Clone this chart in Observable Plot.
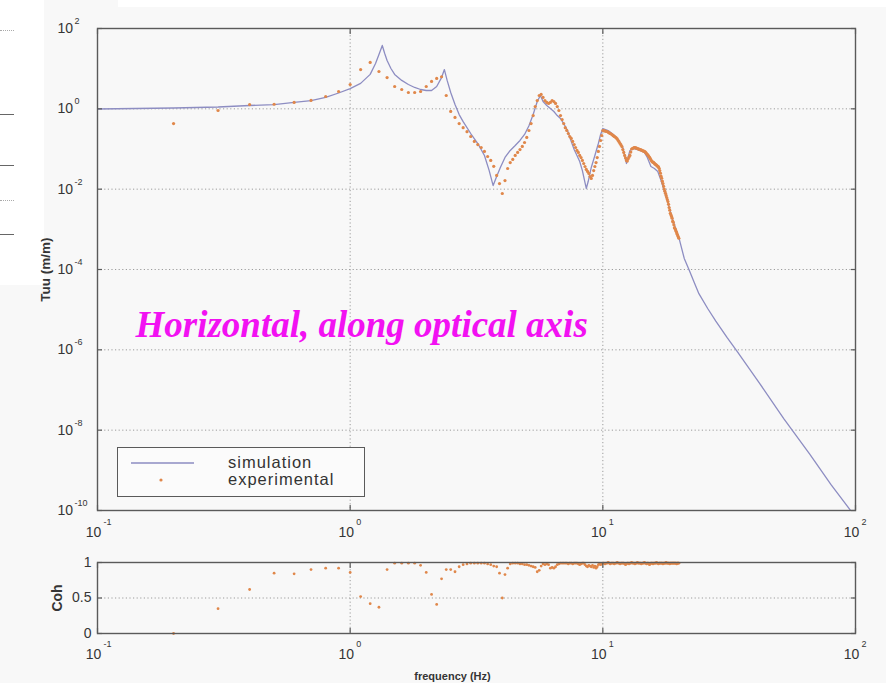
<!DOCTYPE html>
<html>
<head>
<meta charset="utf-8">
<script src="https://cdn.jsdelivr.net/npm/d3@7"></script>
<script src="https://cdn.jsdelivr.net/npm/@observablehq/plot@0.6"></script>
<style>
  body { margin: 0; background: #f8f8f8; }
  #page { position: relative; width: 886px; height: 683px; overflow: hidden; font-family: "Liberation Sans", Arial, sans-serif; }
  #page svg { position: absolute; left: 0; }
  .blank { position: absolute; background: #ffffff; }
  .edge { position: absolute; left: 0; width: 14px; height: 0; border-top: 1.3px solid #666; }
  .edge.dot { border-top: 1px dotted #aaa; }
  #legend { position: absolute; left: 117px; top: 447px; width: 246px; height: 48px; border: 1.3px solid #5a5a5a; background: #fbfbfb; }
  #legend svg { position: absolute; left: 0; top: 0; }
  #legend .lab { position: absolute; left: 110px; font-size: 16.5px; letter-spacing: 1px; color: #333; line-height: 17px; }
</style>
</head>
<body>
<div id="page">
  <div class="blank" style="left:0;top:0;width:44px;height:285px"></div>
  <div class="blank" style="left:118px;top:0;width:768px;height:7px"></div>
  <div class="edge dot" style="top:30px"></div>
  <div class="edge" style="top:114px"></div>
  <div class="edge" style="top:165px"></div>
  <div class="edge dot" style="top:200px"></div>
  <div class="edge" style="top:234px"></div>
</div>
<script>
// Simulated transfer function Tuu (m/m) versus frequency (Hz)
const simFreq = [0.1, 0.2, 0.3, 0.4, 0.5, 0.6, 0.7, 0.8, 0.9, 1.0,
  1.1, 1.2, 1.26, 1.3, 1.34, 1.37, 1.4, 1.45, 1.5, 1.6, 1.7, 1.8, 1.9, 2.0,
  2.1, 2.2, 2.3, 2.36, 2.42, 2.5, 2.6, 2.7, 2.8, 3.0, 3.2, 3.4, 3.55, 3.68, 3.8, 3.93,
  4.1, 4.3, 4.5, 4.7, 4.9, 5.1, 5.3, 5.5, 5.66, 5.8, 6.0, 6.2, 6.4, 6.6, 6.8,
  7.0, 7.25, 7.5, 7.7, 7.9, 8.1, 8.3, 8.5, 8.6, 8.75, 9.0, 9.3, 9.6, 9.8,
  10.0, 10.5, 11.0, 11.5, 12.0, 12.4, 12.8, 13.2, 14.0, 14.6, 15.0, 15.5, 16.0, 16.5,
  17.0, 17.5, 18.0, 18.5, 19.0, 20.0, 21.0, 22.0, 23.0, 24.0, 26.0, 28.0, 31.0, 34.0,
  42.0, 52.0, 66.0, 80.0, 100.0];
const simMag = [0.99, 1.05, 1.11, 1.21, 1.28, 1.44, 1.61, 1.92, 2.48, 3.2,
  4.3, 7.2, 13.5, 22.5, 37.8, 23.9, 16, 10.1, 7.2, 5.1, 4.04, 3.4, 3.03, 2.86,
  2.86, 3.6, 6.0, 9.5, 5.1, 2.55, 1.28, 0.72, 0.48, 0.243, 0.137, 0.069, 0.029, 0.0123, 0.0207, 0.0347,
  0.0615, 0.092, 0.122, 0.163, 0.23, 0.38, 0.72, 1.52, 2.15, 1.52, 1.21, 1.02, 0.86, 0.68, 0.575,
  0.43, 0.289, 0.154, 0.097, 0.069, 0.0489, 0.029, 0.0146, 0.0104, 0.0155, 0.0347, 0.069, 0.137, 0.23,
  0.324, 0.289, 0.23, 0.173, 0.109, 0.0436, 0.092, 0.103, 0.092, 0.082, 0.0615, 0.0367, 0.0327, 0.0276,
  0.0164, 0.0091, 0.0052, 0.0028, 0.00156, 0.00062, 0.000189, 9.5e-5, 4.75e-5, 2.5e-5, 1.07e-5, 5.2e-6, 2.04e-6, 9.2e-7,
  1.38e-7, 1.95e-8, 2.5e-9, 4.4e-10, 6.9e-11];

// Measured transfer function and coherence, 0.1 Hz resolution
const expFreq = [
  0.2, 0.3, 0.4, 0.5, 0.6, 0.7, 0.8, 0.9, 1.0,
  1.1, 1.2, 1.3, 1.4, 1.5, 1.6, 1.7, 1.8, 1.9, 2.0,
  2.1, 2.2, 2.3, 2.4, 2.5, 2.6, 2.7, 2.8, 2.9, 3.0,
  3.1, 3.2, 3.3, 3.4, 3.5, 3.6, 3.7, 3.8, 3.9, 4.0,
  4.1, 4.2, 4.3, 4.4, 4.5, 4.6, 4.7, 4.8, 4.9, 5.0,
  5.1, 5.2, 5.3, 5.4, 5.5, 5.6, 5.7, 5.8, 5.9, 6.0,
  6.1, 6.2, 6.3, 6.4, 6.5, 6.6, 6.7, 6.8, 6.9, 7.0,
  7.1, 7.2, 7.3, 7.4, 7.5, 7.6, 7.7, 7.8, 7.9, 8.0,
  8.1, 8.2, 8.3, 8.4, 8.5, 8.6, 8.7, 8.8, 8.9, 9.0,
  9.1, 9.2, 9.3, 9.4, 9.5, 9.6, 9.7, 9.8, 9.9, 10.0,
  10.1, 10.2, 10.3, 10.4, 10.5, 10.6, 10.7, 10.8, 10.9, 11.0,
  11.1, 11.2, 11.3, 11.4, 11.5, 11.6, 11.7, 11.8, 11.9, 12.0,
  12.1, 12.2, 12.3, 12.4, 12.5, 12.6, 12.7, 12.8, 12.9, 13.0,
  13.1, 13.2, 13.3, 13.4, 13.5, 13.6, 13.7, 13.8, 13.9, 14.0,
  14.1, 14.2, 14.3, 14.4, 14.5, 14.6, 14.7, 14.8, 14.9, 15.0,
  15.1, 15.2, 15.3, 15.4, 15.5, 15.6, 15.7, 15.8, 15.9, 16.0,
  16.1, 16.2, 16.3, 16.4, 16.5, 16.6, 16.7, 16.8, 16.9, 17.0,
  17.1, 17.2, 17.3, 17.4, 17.5, 17.6, 17.7, 17.8, 17.9, 18.0,
  18.1, 18.2, 18.3, 18.4, 18.5, 18.6, 18.7, 18.8, 18.9, 19.0,
  19.1, 19.2, 19.3, 19.4, 19.5, 19.6, 19.7, 19.8, 19.9, 20.0];
const expMag = [
  0.43, 0.91, 1.28, 1.3, 1.44, 1.62, 2.03, 2.70, 4.04,
  9.5, 14.3, 8.5, 6.0, 3.6, 3.03, 2.55, 2.55, 2.70, 3.6,
  4.8, 5.7, 6.3, 2.15, 0.86, 0.61, 0.43, 0.34, 0.27, 0.205,
  0.154, 0.129, 0.109, 0.087, 0.065, 0.052, 0.037, 0.022, 0.0138, 0.0078,
  0.0164, 0.0327, 0.046, 0.055, 0.069, 0.082, 0.097, 0.116, 0.145, 0.194,
  0.289, 0.43, 0.68, 1.14, 1.61, 2.15, 2.28, 1.92, 1.61, 1.44,
  1.36, 1.44, 1.61, 1.52, 1.36, 1.14, 0.91, 0.68, 0.54, 0.43,
  0.34, 0.29, 0.243, 0.205, 0.183, 0.154, 0.129, 0.109, 0.092, 0.082,
  0.069, 0.061, 0.052, 0.0436, 0.0367, 0.031, 0.0276, 0.0246, 0.0207, 0.0185,
  0.022, 0.029, 0.0367, 0.046, 0.061, 0.087, 0.116, 0.163, 0.217, 0.289,
  0.286, 0.28, 0.276, 0.273, 0.26, 0.252, 0.243, 0.235, 0.226, 0.215,
  0.206, 0.198, 0.189, 0.178, 0.163, 0.15, 0.137, 0.126, 0.115, 0.097,
  0.082, 0.069, 0.060, 0.052, 0.050, 0.057, 0.063, 0.069, 0.084, 0.100,
  0.103, 0.106, 0.108, 0.109, 0.107, 0.105, 0.103, 0.101, 0.099, 0.097,
  0.096, 0.094, 0.093, 0.090, 0.089, 0.087, 0.085, 0.081, 0.077, 0.073,
  0.070, 0.066, 0.062, 0.058, 0.054, 0.050, 0.048, 0.047, 0.046, 0.044,
  0.042, 0.041, 0.040, 0.038, 0.037, 0.036, 0.033, 0.029, 0.025, 0.021,
  0.0187, 0.0158, 0.0138, 0.0118, 0.0101, 0.0089, 0.0079, 0.0070, 0.0062, 0.0055,
  0.0049, 0.0042, 0.0035, 0.0030, 0.0025, 0.0023, 0.0021, 0.0019, 0.0016, 0.0015,
  0.0013, 0.0011, 0.00105, 0.00097, 0.00089, 0.00082, 0.00075, 0.00069, 0.00064, 0.00060];
const expCoh = [
  0.0, 0.35, 0.62, 0.85, 0.84, 0.90, 0.92, 0.92, 0.86,
  0.52, 0.42, 0.37, 0.90, 0.99, 0.99, 0.99, 0.99, 0.96, 0.86,
  0.55, 0.41, 0.77, 0.90, 0.90, 0.87, 0.94, 0.97, 0.98, 0.99,
  0.99, 0.99, 0.99, 0.99, 0.98, 0.97, 0.95, 0.94, 0.85, 0.50,
  0.83, 0.92, 0.98, 0.99, 0.99, 0.99, 0.98, 0.98, 0.97, 0.97,
  0.96, 0.95, 0.94, 0.93, 0.87, 0.89, 0.95, 0.98, 0.97, 0.98,
  0.97, 0.92, 0.93, 0.92, 0.94, 0.97, 0.98, 0.99, 0.99, 0.99,
  0.99, 0.99, 0.98, 0.99, 0.99, 0.98, 0.99, 0.99, 0.99, 0.98,
  0.97, 0.98, 0.99, 0.99, 0.97, 0.95, 0.94, 0.96, 0.95, 0.94,
  0.96, 0.93, 0.95, 0.92, 0.94, 0.97, 0.98, 0.97, 0.98, 0.99,
  0.99, 0.98, 0.99, 0.99, 1.0, 0.99, 0.98, 0.99, 0.99, 0.99,
  0.98, 0.99, 0.99, 1.0, 0.99, 0.99, 0.98, 0.99, 0.99, 0.99,
  0.99, 0.98, 0.97, 0.98, 0.99, 0.99, 0.98, 0.99, 0.99, 1.0,
  0.99, 0.99, 0.99, 0.98, 0.99, 0.99, 1.0, 0.99, 0.99, 0.99,
  0.99, 0.98, 0.99, 0.99, 0.99, 1.0, 0.99, 0.99, 0.98, 0.99,
  0.99, 0.98, 0.97, 0.98, 0.99, 0.99, 0.99, 0.98, 0.99, 0.99,
  0.99, 0.99, 1.0, 0.99, 0.99, 0.98, 0.99, 0.99, 0.99, 0.99,
  0.99, 0.99, 0.98, 0.99, 0.99, 0.99, 0.99, 1.0, 0.99, 0.99,
  0.99, 0.99, 0.99, 0.98, 0.99, 0.99, 0.99, 0.99, 0.99, 0.99,
  0.99, 0.99, 0.99, 0.99, 0.99, 0.98, 0.99, 0.99, 0.99, 0.99];

// Axis ticks (decades) and their printed exponents
const freqTicks = [0.1, 1, 10, 100];
const freqTickExp = ["-1", "0", "1", "2"];
const magTicks = [1e2, 1e0, 1e-2, 1e-4, 1e-6, 1e-8, 1e-10];
const magTickExp = ["2", "0", "-2", "-4", "-6", "-8", "-10"];
const magGrid = [1e0, 1e-2, 1e-4, 1e-6, 1e-8];
const freqGrid = [1, 10];
const cohTicks = [0, 0.5, 1];

const simColor = "#8d8dc2";
const expColor = "#e0874a";
const frameColor = "#5a5a5a";
const textColor = "#353535";
const gridStyle = {stroke: "#9c9c9c", strokeWidth: 1, strokeDasharray: "1.2,2.4"};

const sim = simFreq.map((f, i) => ({f, m: simMag[i]}));
const meas = expFreq.map((f, i) => ({f, m: expMag[i], c: expCoh[i]}));

// decade labels: base "10" plus a raised exponent
function xDecadeLabels(dy) {
  return [
    Plot.text(freqTicks, {x: d => d, text: () => "10", frameAnchor: "bottom", lineAnchor: "middle", dy, dx: -4, fontSize: 14, fill: textColor}),
    Plot.text(freqTicks, {x: d => d, text: (d, i) => freqTickExp[i], frameAnchor: "bottom", lineAnchor: "middle", dy: dy - 10, dx: 6, textAnchor: "start", fontSize: 9, fill: textColor})
  ];
}
// short tick marks pointing into the frame on all four sides
function inwardTicks(xTicks, yTicks) {
  const common = {tickSize: -5, tickFormat: () => "", label: null, stroke: frameColor, strokeWidth: 1.2};
  return [
    Plot.axisX(xTicks, {anchor: "bottom", ...common}),
    Plot.axisX(xTicks, {anchor: "top", ...common}),
    Plot.axisY(yTicks, {anchor: "left", ...common}),
    Plot.axisY(yTicks, {anchor: "right", ...common})
  ];
}

const page = document.getElementById("page");

const main = Plot.plot({
  width: 886,
  height: 545,
  marginLeft: 97,
  marginRight: 31,
  marginTop: 28,
  marginBottom: 35,
  style: {background: "none", fontFamily: "'Liberation Sans', Arial, sans-serif", overflow: "visible"},
  x: {type: "log", domain: [0.1, 100], axis: null, label: null},
  y: {type: "log", domain: [1e-10, 1e2], axis: null, label: null},
  marks: [
    Plot.ruleY(magGrid, {y: d => d, ...gridStyle}),
    Plot.ruleX(freqGrid, {x: d => d, ...gridStyle}),
    Plot.line(sim, {x: "f", y: "m", stroke: simColor, strokeWidth: 1.3, clip: true}),
    Plot.dot(meas, {x: "f", y: "m", r: 1.6, fill: expColor, stroke: null}),
    Plot.frame({stroke: frameColor, strokeWidth: 1.4}),
    ...inwardTicks(freqTicks, magTicks),
    Plot.text(magTicks, {y: d => d, text: () => "10", frameAnchor: "left", dx: -40, textAnchor: "start", fontSize: 14, fill: textColor}),
    Plot.text(magTicks, {y: d => d, text: (d, i) => magTickExp[i], frameAnchor: "left", dx: -23, dy: -7.5, textAnchor: "start", fontSize: 9, fill: textColor}),
    ...xDecadeLabels(22),
    Plot.text(["Tuu (m/m)"], {text: d => d, frameAnchor: "left", textAnchor: "middle", lineAnchor: "middle", dx: -52, rotate: -90, fontSize: 13.5, fontWeight: "bold", fill: textColor}),
    Plot.text(["Horizontal, along optical axis"], {text: d => d, frameAnchor: "top-left", dx: 38, dy: 297, textAnchor: "start", lineAnchor: "middle",
      fontFamily: "'Liberation Serif', 'Times New Roman', serif", fontStyle: "italic", fontWeight: "bold", fontSize: 37, fill: "#f211f2"})
  ]
});
main.style.top = "0px";
page.appendChild(main);

const coh = Plot.plot({
  width: 886,
  height: 138,
  marginLeft: 97,
  marginRight: 31,
  marginTop: 17,
  marginBottom: 50,
  style: {background: "none", fontFamily: "'Liberation Sans', Arial, sans-serif", overflow: "visible"},
  x: {type: "log", domain: [0.1, 100], axis: null, label: null},
  y: {domain: [0, 1], axis: null, label: null},
  marks: [
    Plot.ruleY([0.5], {y: d => d, ...gridStyle}),
    Plot.ruleX(freqGrid, {x: d => d, ...gridStyle}),
    Plot.dot(meas, {x: "f", y: "c", r: 1.4, fill: expColor, stroke: null}),
    Plot.frame({stroke: frameColor, strokeWidth: 1.4}),
    ...inwardTicks(freqTicks, cohTicks),
    Plot.axisY(cohTicks, {anchor: "left", tickSize: 0, tickPadding: 6, fontSize: 14, fill: textColor, label: null, tickFormat: d => String(d)}),
    ...xDecadeLabels(21),
    Plot.text(["Coh"], {text: d => d, frameAnchor: "left", textAnchor: "middle", lineAnchor: "middle", dx: -40, rotate: -90, fontSize: 14, fontWeight: "bold", fill: textColor}),
    Plot.text(["frequency (Hz)"], {text: d => d, frameAnchor: "bottom", lineAnchor: "middle", dx: -24, dy: 43, fontSize: 11, fontWeight: "bold", fill: textColor})
  ]
});
coh.style.top = "545px";
page.appendChild(coh);

// legend box
const legend = document.createElement("div");
legend.id = "legend";
legend.innerHTML = `
  <svg width="246" height="48">
    <line x1="13" y1="15" x2="76" y2="15" stroke="${simColor}" stroke-width="1.3"></line>
    <circle cx="43" cy="32" r="1.6" fill="${expColor}"></circle>
  </svg>
  <div class="lab" style="top:6px">simulation</div>
  <div class="lab" style="top:23px">experimental</div>`;
page.appendChild(legend);
</script>
</body>
</html>
